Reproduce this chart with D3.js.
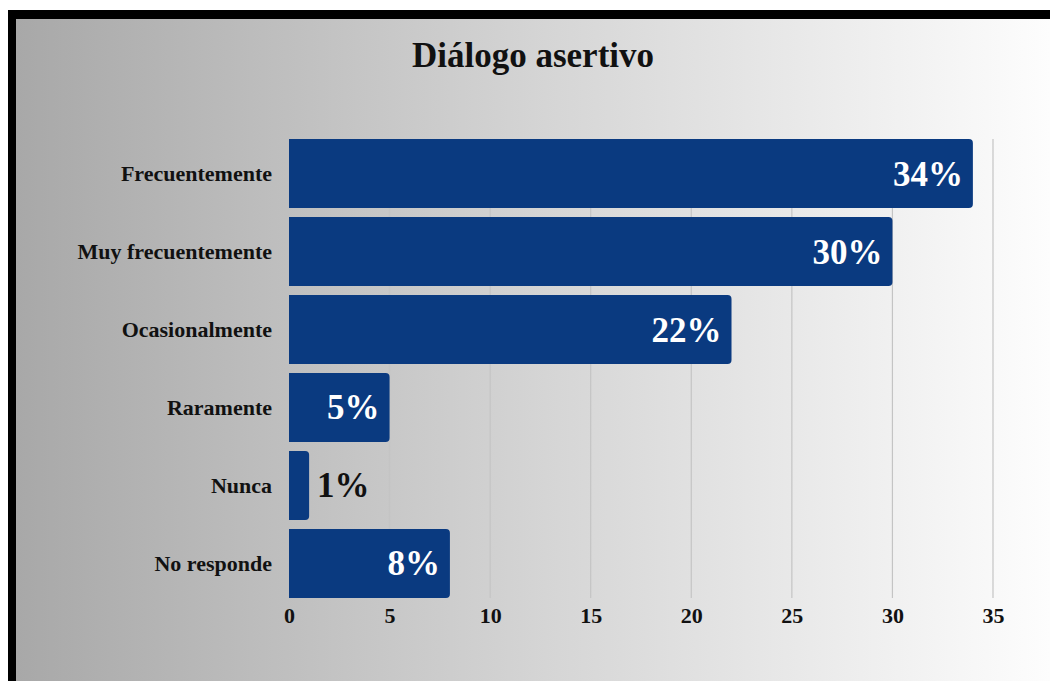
<!DOCTYPE html>
<html lang="es">
<head>
<meta charset="UTF-8">
<title>Diálogo asertivo</title>
<script src="https://d3js.org/d3.v7.min.js"></script>
<style>
  body { margin: 0; background: #fff; }
  svg { display: block; }
  text { font-family: "Liberation Serif", "Times New Roman", serif; font-weight: bold; }
</style>
</head>
<body>
<svg width="1050" height="683"></svg>
<script>
// datos
var categorias = ['Frecuentemente', 'Muy frecuentemente', 'Ocasionalmente', 'Raramente', 'Nunca', 'No responde'];
var valores = [34, 30, 22, 5, 1, 8];
var ticks = [0, 5, 10, 15, 20, 25, 30, 35];

var svg = d3.select('svg');

// fondo con degradado
var defs = svg.append('defs');
var grad = defs.append('linearGradient').attr('id', 'fondo')
  .attr('x1', '0%').attr('x2', '100%').attr('y1', '0%').attr('y2', '0%');
grad.append('stop').attr('offset', '0%').attr('stop-color', '#a8a8a8');
grad.append('stop').attr('offset', '50%').attr('stop-color', '#d4d4d4');
grad.append('stop').attr('offset', '100%').attr('stop-color', '#fdfdfd');

svg.append('rect').attr('x', 8).attr('y', 10).attr('width', 1042).attr('height', 671).attr('fill', '#000');
svg.append('rect').attr('x', 16).attr('y', 19).attr('width', 1034).attr('height', 662).attr('fill', 'url(#fondo)');

var x = d3.scaleLinear().domain([0, 35]).range([289, 993]);
var y = d3.scaleBand().domain(categorias).range([139, 598]).paddingInner(0.115).paddingOuter(0.0);

// titulo
svg.append('text').attr('x', 533).attr('y', 67).attr('text-anchor', 'middle')
  .style('font-size', '35px').attr('fill', '#111').text('Diálogo asertivo');

// rejilla
svg.append('g').selectAll('line').data(ticks.slice(1)).enter().append('line')
  .attr('x1', d => x(d)).attr('x2', d => x(d))
  .attr('y1', 139).attr('y2', 598)
  .attr('stroke', '#c4c4c4').attr('stroke-width', 1.2);

// barras con esquinas derechas redondeadas
var r = 4;
function barPath(d, i) {
  var x0 = x(0), x1 = x(d), y0 = y(categorias[i]), h = y.bandwidth();
  var rr = Math.min(r, (x1 - x0) / 2);
  return 'M' + x0 + ',' + y0 + 'H' + (x1 - rr) + 'Q' + x1 + ',' + y0 + ' ' + x1 + ',' + (y0 + rr) +
    'V' + (y0 + h - rr) + 'Q' + x1 + ',' + (y0 + h) + ' ' + (x1 - rr) + ',' + (y0 + h) + 'H' + x0 + 'Z';
}
svg.append('g').selectAll('path').data(valores).enter().append('path')
  .attr('d', barPath).attr('fill', '#0a3a80');

// etiquetas de valor
svg.append('g').selectAll('text').data(valores).enter().append('text')
  .attr('x', d => d >= 3 ? x(d) - 10 : x(d) + 8)
  .attr('y', (d, i) => y(categorias[i]) + y.bandwidth() / 2 + 12)
  .attr('text-anchor', d => d >= 3 ? 'end' : 'start')
  .attr('fill', d => d >= 3 ? '#fff' : '#111')
  .style('font-size', '35px')
  .text(d => d + '%');

// eje y
var yAxis = svg.append('g').attr('transform', 'translate(289,0)')
  .call(d3.axisLeft(y).tickSize(0).tickPadding(17));
yAxis.select('.domain').remove();
yAxis.selectAll('text').style('font-size', '22px').attr('fill', '#111');

// eje x
var xAxis = svg.append('g').attr('transform', 'translate(0,598)')
  .call(d3.axisBottom(x).tickValues(ticks).tickSize(0).tickPadding(9));
xAxis.select('.domain').remove();
xAxis.selectAll('text').style('font-size', '22px').attr('fill', '#111');
</script>
</body>
</html>
